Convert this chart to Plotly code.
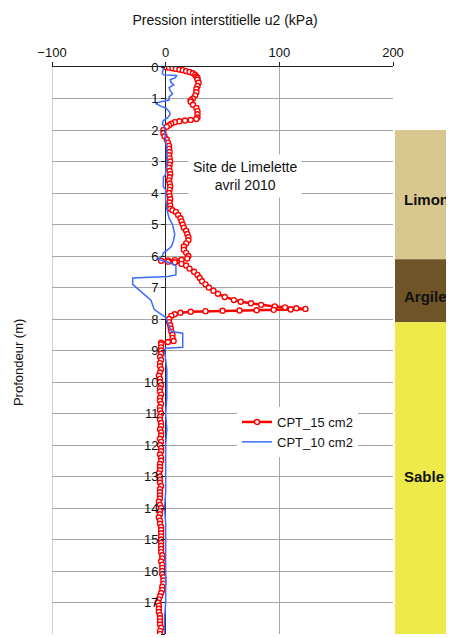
import plotly.graph_objects as go

# ---- Data ----
red_depth = [0.00, 0.02, 0.04, 0.06, 0.08, 0.10, 0.13, 0.16, 0.20, 0.25, 0.30, 0.35, 0.40, 0.50,
             0.60, 0.70, 0.80, 0.90, 1.00, 1.05, 1.10, 1.20, 1.30, 1.40, 1.50, 1.60, 1.65, 1.68,
             1.70, 1.72, 1.75, 1.80, 1.85, 1.90, 2.00, 2.10, 2.20, 2.30, 2.40, 2.50, 2.60, 2.70,
             2.80, 2.90, 3.00, 3.10, 3.20, 3.30, 3.40, 3.50, 3.60, 3.70, 3.80, 3.90, 4.00, 4.10,
             4.20, 4.30, 4.40, 4.50, 4.55, 4.60, 4.70, 4.80, 4.90, 5.00, 5.10, 5.20, 5.30, 5.40,
             5.50, 5.60, 5.70, 5.80, 5.90, 6.00, 6.08, 6.12, 6.13, 6.14, 6.15, 6.18, 6.20, 6.25,
             6.30, 6.40, 6.50, 6.60, 6.70, 6.80, 6.90, 7.00, 7.10, 7.20, 7.30, 7.40, 7.45, 7.50,
             7.55, 7.60, 7.63, 7.66, 7.68, 7.70, 7.71, 7.72, 7.73, 7.74, 7.75, 7.77, 7.80, 7.85,
             7.90, 8.00, 8.10, 8.20, 8.30, 8.40, 8.50, 8.60, 8.70, 8.73, 8.75, 8.80, 8.90, 9.00,
             9.10, 9.20, 9.30, 9.40, 9.50, 9.60, 9.70, 9.80, 9.90, 10.0, 10.1, 10.2, 10.3, 10.4,
             10.5, 10.6, 10.7, 10.8, 10.9, 11.0, 11.1, 11.2, 11.3, 11.4, 11.5, 11.6, 11.7, 11.8,
             11.9, 12.0, 12.1, 12.2, 12.3, 12.4, 12.5, 12.6, 12.7, 12.8, 12.9, 13.0, 13.1, 13.2,
             13.3, 13.4, 13.5, 13.6, 13.7, 13.8, 13.9, 14.0, 14.1, 14.2, 14.3, 14.4, 14.5, 14.6,
             14.7, 14.8, 14.9, 15.0, 15.1, 15.2, 15.3, 15.4, 15.5, 15.6, 15.7, 15.8, 15.9, 16.0,
             16.1, 16.2, 16.3, 16.4, 16.5, 16.6, 16.7, 16.8, 16.9, 17.0, 17.1, 17.2, 17.3, 17.4,
             17.5, 17.6, 17.7, 17.8, 17.9, 18.0]
red_u2 = [0, 3, 6, 9, 12, 15, 18, 21, 24, 26, 27, 28, 28, 29,
          28, 27, 27, 26, 24, 22, 22, 24, 27, 28, 28, 28, 27, 22,
          17, 12, 8, 5, 3, 1, -2, -2, -1, 1, 2, 3, 3, 3.5,
          3, 3.5, 4, 3.5, 3, 3.5, 4, 3.5, 3, 3.5, 4, 3.5, 3, 3.5,
          4, 3.5, 4, 4, 6, 9, 11, 13, 14, 15, 16, 18, 19, 20,
          20, 18, 16, 16, 18, 20, 19, 14, 8, 2, -4, 2, 8, 14,
          18, 21, 25, 28, 30, 32, 35, 38, 42, 46, 52, 60, 66, 75,
          84, 96, 105, 115, 123, 110, 95, 80, 65, 50, 35, 22, 13, 8,
          5, 3, 3, 4, 4.5, 5, 6, 6, 7, 2, -4, -4, -4, -4,
          -4, -5, -4, -5, -5, -4, -5, -6, -5, -5, -4, -5, -5, -4,
          -5, -5, -4, -5, -5, -4, -5, -5, -4, -4, -5, -4, -4, -5,
          -4, -5, -4, -4, -5, -4, -4, -5, -5, -5, -6, -5, -5, -5,
          -4, -5, -5, -5, -5, -6, -5, -4, -5, -5, -6, -5, -5, -4,
          -4, -4, -4, -4, -4, -4, -4, -4, -3, -3, -4, -3, -3, -3,
          -3, -2, -2, -2, -3, -3, -4, -5, -6, -7, -6, -6, -6, -5,
          -5, -5, -5, -4, -5, -5]

blue_depth = [0.00, 0.05, 0.20, 0.25, 0.27, 0.35, 0.40, 0.50, 0.57, 0.65, 0.75, 0.85, 0.95,
              1.05, 1.10, 1.15, 1.25, 1.30, 1.40, 1.50, 1.60, 1.70, 1.80, 1.90, 2.00, 2.30,
              2.60, 3.00, 3.40, 3.50, 3.80, 3.90, 4.20, 4.50, 4.80, 5.00, 5.30, 5.50, 5.70,
              5.80, 5.90, 6.00, 6.10, 6.20, 6.30, 6.60, 6.65, 6.70, 6.90, 7.40, 7.70, 7.95,
              8.25, 8.40, 8.45, 8.90, 8.93, 9.00, 9.30, 9.60, 10.0, 10.5, 11.0, 11.5, 12.0,
              12.5, 13.0, 13.5, 14.0, 14.5, 15.0, 15.5, 16.0, 16.5, 17.0, 17.5, 18.0]
blue_u2 = [-1, -2, -3, -2, 10, 8, 4, 5, 7, 3, 4, 6, 3,
           3, -4, -9, -4, 0, 3, 4, 2, -2, -3, -1, -1, 0,
           1, 1, 0, -2, -2, 0, 0, 1, 3, 6, 8, 7, 5,
           2, -2, -3, -7, 2, 9, 9, 2, -29, -29, -13, -10, 0,
           3, 5, 15, 15, 0, -1, 0, 1, 1, 1, 0, 1, 0,
           0, 0, 0, -1, 0, 0, 0, 0, 0, 0, -1, -1]

soil_names = ["Limon", "Argile", "Sable"]
soil_top = [2.0, 6.1, 8.1]
soil_bottom = [6.1, 8.1, 18.5]
soil_colors = ["#D8C890", "#6E5427", "#EEEA4A"]
soil_label_depth = [4.2, 7.27, 13.0]

x_ticks = [-100, 0, 100, 200]
y_ticks = list(range(0, 19))

FONT = "Arial, Liberation Sans, sans-serif"

# page body has an 8px margin: figure coordinates = page coordinates - 8
W, H = 446, 629
ML, MT = 44, 59

fig = go.Figure()

# soil column (separate subplot)
fig.add_trace(go.Bar(
    x=[0, 0, 0], y=[b - t for t, b in zip(soil_top, soil_bottom)], base=soil_top,
    marker=dict(color=soil_colors, line=dict(width=0)), width=1.0,
    xaxis="x2", yaxis="y2", showlegend=False, hoverinfo="skip"))

fig.add_trace(go.Scatter(
    x=red_u2, y=red_depth, mode="lines+markers", name="CPT_15 cm2",
    line=dict(color="#FF0000", width=2.5),
    marker=dict(symbol="circle", size=5, color="white", line=dict(color="#FF0000", width=1.4))))

fig.add_trace(go.Scatter(
    x=blue_u2, y=blue_depth, mode="lines", name="CPT_10 cm2",
    line=dict(color="#3A6BFF", width=1.5)))

xdom_end = 341 / 402
fig.update_layout(
    width=W, height=H,
    margin=dict(l=ML, r=0, t=MT, b=3, autoexpand=False),
    paper_bgcolor="white", plot_bgcolor="white",
    font=dict(family=FONT, size=13, color="#111"),
    showlegend=True,
    barmode="overlay",
    title=dict(text="Pression interstitielle u2 (kPa)", x=217 / W, xanchor="center",
               y=1 - 12 / H, yanchor="middle", font=dict(size=14, family=FONT, color="#111")),
    xaxis=dict(domain=[0, xdom_end], range=[-100, 200], side="top", tickvals=x_ticks,
               showgrid=True, gridcolor="#A6A6A6", gridwidth=1, automargin=False,
               zeroline=True, zerolinecolor="#222", zerolinewidth=1,
               showline=True, linecolor="#222", linewidth=1, mirror=False,
               ticks="outside", ticklen=4, tickcolor="#222",
               tickfont=dict(size=13, color="#111"), fixedrange=True),
    yaxis=dict(range=[18, 0], tickvals=y_ticks, anchor="free", position=(165 - 52) / 402,
               showgrid=True, gridcolor="#A6A6A6", gridwidth=1, zeroline=False, automargin=False,
               showline=False, ticks="outside", ticklen=4, tickcolor="#222",
               tickfont=dict(size=13, color="#111"), fixedrange=True),
    xaxis2=dict(domain=[343 / 402, 1], range=[-0.5, 0.5], visible=False, anchor="y2",
                fixedrange=True, automargin=False),
    yaxis2=dict(range=[18, 0], anchor="x2", visible=False, showgrid=False, fixedrange=True,
                automargin=False),
    legend=dict(x=(237 - 52) / 402, y=1 - (407 - 67) / 567, xanchor="left", yanchor="top",
                bgcolor="white", borderwidth=0, font=dict(size=13, family=FONT, color="#111"),
                tracegroupgap=2, itemwidth=30),
)

# left border gridline at x = -100
fig.add_shape(type="line", xref="x", yref="y domain", x0=x_ticks[0], x1=x_ticks[0], y0=0, y1=1,
              line=dict(color="#A6A6A6", width=1), layer="below")

for name, d in zip(soil_names, soil_label_depth):
    fig.add_annotation(x=0.12, xref="x2 domain", y=d, yref="y2", text="<b>%s</b>" % name,
                       showarrow=False, xanchor="left", yanchor="middle",
                       font=dict(size=15, family=FONT, color="#111"))

fig.add_annotation(x=70, y=3.47, xref="x", yref="y",
                   text="Site de Limelette<br>avril 2010", showarrow=False,
                   bgcolor="white", font=dict(size=14, family=FONT, color="#111"),
                   align="center", borderpad=4)

fig.add_annotation(x=-34 / 402, xref="paper", y=9.4, yref="y", text="Profondeur (m)",
                   textangle=-90, showarrow=False, xanchor="center", yanchor="middle",
                   font=dict(size=13, family=FONT, color="#111"))

fig.write_html("out.html")
